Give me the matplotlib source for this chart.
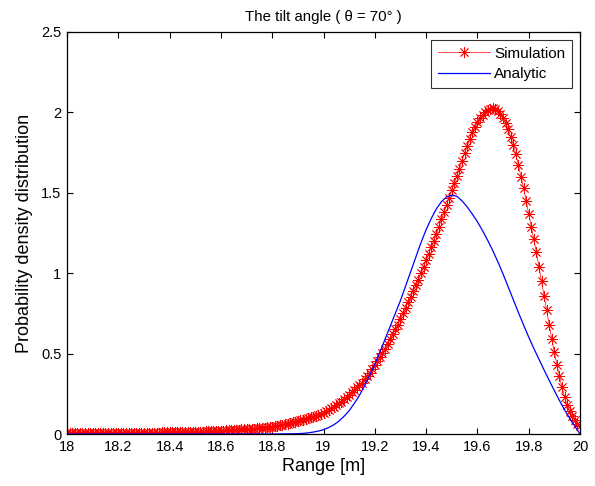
import matplotlib
matplotlib.use("Agg")
import matplotlib.pyplot as plt
import numpy as np
from matplotlib.ticker import FixedLocator, FuncFormatter

plt.rcParams['font.family'] = ['Liberation Sans', 'DejaVu Sans']

# Simulation: x from 18.00 to 20.00 step 0.01 (201 points)
sim_x_start = 18.0
sim_x_step = 0.01
sim_y = [
    # 18.00-18.09
    0.005, 0.005, 0.005, 0.005, 0.005, 0.005, 0.005, 0.005, 0.005, 0.005,
    # 18.10-18.19
    0.006, 0.006, 0.006, 0.006, 0.006, 0.006, 0.006, 0.006, 0.006, 0.006,
    # 18.20-18.29
    0.007, 0.007, 0.007, 0.007, 0.007, 0.007, 0.007, 0.007, 0.007, 0.007,
    # 18.30-18.39
    0.008, 0.008, 0.0082, 0.0085, 0.0087, 0.009, 0.0092, 0.0094, 0.0096, 0.0098,
    # 18.40-18.49
    0.010, 0.0103, 0.0106, 0.011, 0.0114, 0.0118, 0.0122, 0.0126, 0.013, 0.0135,
    # 18.50-18.59
    0.014, 0.0145, 0.015, 0.0155, 0.016, 0.0165, 0.017, 0.018, 0.0185, 0.019,
    # 18.60-18.69
    0.020, 0.021, 0.022, 0.023, 0.024, 0.025, 0.026, 0.027, 0.028, 0.029,
    # 18.70-18.79
    0.030, 0.031, 0.033, 0.034, 0.036, 0.037, 0.039, 0.040, 0.042, 0.043,
    # 18.80-18.89
    0.045, 0.048, 0.051, 0.054, 0.057, 0.060, 0.064, 0.068, 0.072, 0.076,
    # 18.90-18.99
    0.080, 0.084, 0.088, 0.093, 0.098, 0.103, 0.108, 0.113, 0.119, 0.124,
    # 19.00-19.09
    0.130, 0.140, 0.150, 0.160, 0.170, 0.180, 0.190, 0.200, 0.215, 0.230,
    # 19.10-19.19
    0.245, 0.260, 0.275, 0.290, 0.305, 0.320, 0.340, 0.360, 0.380, 0.405,
    # 19.20-19.29
    0.430, 0.455, 0.480, 0.505, 0.530, 0.560, 0.590, 0.620, 0.650, 0.680,
    # 19.30-19.39
    0.715, 0.750, 0.785, 0.820, 0.855, 0.890, 0.925, 0.960, 1.000, 1.040,
    # 19.40-19.49
    1.080, 1.120, 1.160, 1.200, 1.245, 1.290, 1.335, 1.380, 1.425, 1.470,
    # 19.50-19.59
    1.515, 1.560, 1.605, 1.650, 1.700, 1.745, 1.790, 1.835, 1.875, 1.910,
    # 19.60-19.69
    1.940, 1.965, 1.985, 2.000, 2.012, 2.020, 2.025, 2.020, 2.010, 1.990,
    # 19.70-19.79
    1.965, 1.935, 1.895, 1.850, 1.800, 1.740, 1.670, 1.600, 1.530, 1.450,
    # 19.80-19.89
    1.370, 1.290, 1.210, 1.130, 1.040, 0.950, 0.860, 0.770, 0.680, 0.590,
    # 19.90-19.99
    0.510, 0.430, 0.360, 0.290, 0.230, 0.180, 0.140, 0.110, 0.085, 0.065,
    # 20.00
    0.050,
]
sim_x = [round(sim_x_start + i * sim_x_step, 2) for i in range(len(sim_y))]

# Analytic curve
ana_x = [18.0, 18.2, 18.4, 18.6, 18.8, 18.9,
         18.92, 18.94, 18.96, 18.98, 19.00, 19.02, 19.04, 19.06, 19.08,
         19.10, 19.12, 19.14, 19.16, 19.18, 19.20, 19.22, 19.24, 19.26, 19.28,
         19.30, 19.32, 19.34, 19.36, 19.38, 19.40, 19.42, 19.44, 19.46, 19.48,
         19.50, 19.52, 19.54, 19.56, 19.58, 19.60, 19.62, 19.64, 19.66, 19.68,
         19.70, 19.72, 19.74, 19.76, 19.78, 19.80, 19.82, 19.84, 19.86, 19.88,
         19.90, 19.92, 19.94, 19.96, 19.98, 20.00]
ana_y = [0.0, 0.0, 0.0, 0.0, 0.0, 0.002,
         0.004, 0.007, 0.012, 0.018, 0.027, 0.040, 0.057, 0.080, 0.110,
         0.145, 0.190, 0.240, 0.300, 0.365, 0.435, 0.510, 0.590, 0.670, 0.750,
         0.830, 0.920, 1.010, 1.100, 1.190, 1.270, 1.340, 1.400, 1.445, 1.475,
         1.485, 1.478, 1.450, 1.412, 1.368, 1.320, 1.265, 1.205, 1.140, 1.070,
         0.995, 0.915, 0.835, 0.755, 0.678, 0.603, 0.532, 0.465, 0.398, 0.333,
         0.270, 0.208, 0.150, 0.097, 0.048, 0.0]

x_ticks = [18, 18.2, 18.4, 18.6, 18.8, 19, 19.2, 19.4, 19.6, 19.8, 20]
y_ticks = [0, 0.5, 1, 1.5, 2, 2.5]

fig = plt.figure(figsize=(5.95, 4.86), dpi=100)
ax = fig.add_axes([67/595, 1 - 434/486, (580 - 67)/595, (434 - 32)/486])

ax.plot(sim_x, sim_y, color='red', lw=0.5, marker=(8, 2, 0), markersize=8,
        markeredgewidth=0.6, markeredgecolor='red', label='Simulation')
ax.plot(ana_x, ana_y, color='blue', lw=0.9, label='Analytic')

ax.set_xlim(18, 20)
ax.set_ylim(0, 2.5)
ax.xaxis.set_major_locator(FixedLocator(x_ticks))
ax.yaxis.set_major_locator(FixedLocator(y_ticks))
fmt = FuncFormatter(lambda v, p: '%g' % v)
ax.xaxis.set_major_formatter(fmt)
ax.yaxis.set_major_formatter(fmt)
ax.tick_params(direction='in', length=4, width=0.8, labelsize=10.5,
               top=True, right=True, pad=4)
for s in ax.spines.values():
    s.set_linewidth(0.9)

ax.set_xlabel('Range [m]', fontsize=13, labelpad=3)
ax.set_ylabel('Probability density distribution', fontsize=13, labelpad=6)
ax.set_title('The tilt angle ( θ = 70° )', fontsize=10.8, pad=8)

leg = ax.legend(loc='upper right', fontsize=11, handlelength=3.4,
                frameon=True, fancybox=False, edgecolor='black',
                borderaxespad=0.5, labelspacing=0.45, handletextpad=0.3,
                borderpad=0.45)
leg.get_frame().set_linewidth(0.8)

fig.savefig('out.png', dpi=100)
